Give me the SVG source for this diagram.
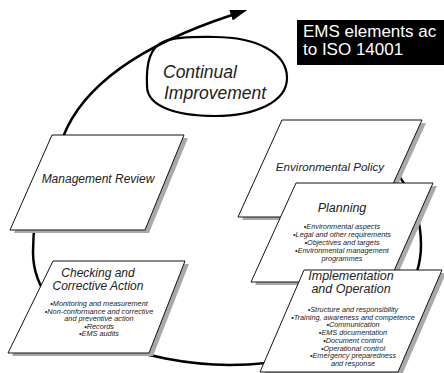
<svg xmlns="http://www.w3.org/2000/svg" width="444" height="373" viewBox="0 0 444 373">
<defs>
<marker id="ah" markerUnits="userSpaceOnUse" markerWidth="18" markerHeight="12" viewBox="0 -6 18 12" refX="1" refY="0" orient="auto">
<path d="M0,-5.5 L17,0 L0,5.5 z" fill="#000"/>
</marker>
<style>
.box{fill:#fff;stroke:#111;stroke-width:1;stroke-linejoin:miter}
.sh{fill:#a9a9a9}
.loop{fill:none;stroke:#000;stroke-width:2.5;stroke-linecap:round}
.t{font-family:"Liberation Sans",Arial,sans-serif;font-style:italic;fill:#222;text-anchor:middle}
.h{font-size:12px}
.b{font-size:7.3px}
.w{font-family:"Liberation Sans",Arial,sans-serif;font-size:17px;fill:#fff}
</style>
</defs>
<rect width="444" height="373" fill="#fff"/>
<g id="connectors">
<path class="loop" d="M372,150 C395,163 421,200 421,245 C421,320 330,365 230,365 C150,365 33,332 33,252 C33,200 50,165 63,137 C85,80 150,42 232,15" marker-end="url(#ah)"/>
</g>
<g id="continual-improvement">
<path d="M147,86 C146,62 150,47 165,41 C180,36 200,37 215,37 C255,37 287,52 287,78 C287,102 255,116 215,116 C175,116 147,106 147,86 Z" fill="none" stroke="#000" stroke-width="2.2"/>
<text class="t" style="font-size:17.5px;text-anchor:start" x="163" y="78">Continual</text>
<text class="t" style="font-size:17.5px;text-anchor:start" x="164" y="99">Improvement</text>
</g>
<g id="title">
<rect x="297" y="20" width="150" height="45" fill="#000"/>
<text class="w" x="303" y="37">EMS elements ac</text>
<text class="w" x="303" y="55">to ISO 14001</text>
</g>
<g id="management-review">
<polygon class="sh" points="56,138 188,138 149,233 14,233"/>
<polygon class="box" points="52,135 184,135 145,230 10,230"/>
<text class="t h" x="98" y="183">Management Review</text>
</g>
<g id="checking">
<polygon class="sh" points="57,264 189,264 153,356 12,356"/>
<polygon class="box" points="53,261 185,261 149,353 8,353"/>
<text class="t h" x="98" y="277">Checking and</text>
<text class="t h" x="98" y="290">Corrective Action</text>
<text class="t b" x="99" y="306">•Monitoring and measurement</text>
<text class="t b" x="99" y="313.5">•Non-conformance and corrective</text>
<text class="t b" x="99" y="321">and preventive action</text>
<text class="t b" x="99" y="328.5">•Records</text>
<text class="t b" x="99" y="336">•EMS audits</text>
</g>
<g id="environmental-policy">
<polygon class="sh" points="286,123 426,123 382,220 242,220"/>
<polygon class="box" points="282,120 422,120 378,217 238,217"/>
<text class="t" style="font-size:11.6px" x="330" y="171">Environmental Policy</text>
</g>
<g id="planning">
<polygon class="sh" points="300,186 437,186 393,285 255,285"/>
<polygon class="box" points="296,183 433,183 389,282 251,282"/>
<text class="t" style="font-size:12.5px" x="342" y="212">Planning</text>
<text class="t b" x="342" y="229">•Environmental aspects</text>
<text class="t b" x="342" y="237">•Legal and other requirements</text>
<text class="t b" x="342" y="245">•Objectives and targets</text>
<text class="t b" x="342" y="253">•Environmental management</text>
<text class="t b" x="342" y="261">programmes</text>
</g>
<g id="implementation">
<polygon class="sh" points="308,273 446,273 402,375 264,375"/>
<polygon class="box" points="304,270 442,270 398,372 260,372"/>
<text class="t" style="font-size:12.5px" x="351" y="280">Implementation</text>
<text class="t" style="font-size:12.5px" x="351" y="293">and Operation</text>
<text class="t b" x="353" y="312">•Structure and responsibility</text>
<text class="t b" x="353" y="319.7">•Training, awareness and competence</text>
<text class="t b" x="353" y="327.4">•Communication</text>
<text class="t b" x="353" y="335.1">•EMS documentation</text>
<text class="t b" x="353" y="342.8">•Document control</text>
<text class="t b" x="353" y="350.5">•Operational control</text>
<text class="t b" x="353" y="358.2">•Emergency preparedness</text>
<text class="t b" x="353" y="365.9">and response</text>
</g>
</svg>
